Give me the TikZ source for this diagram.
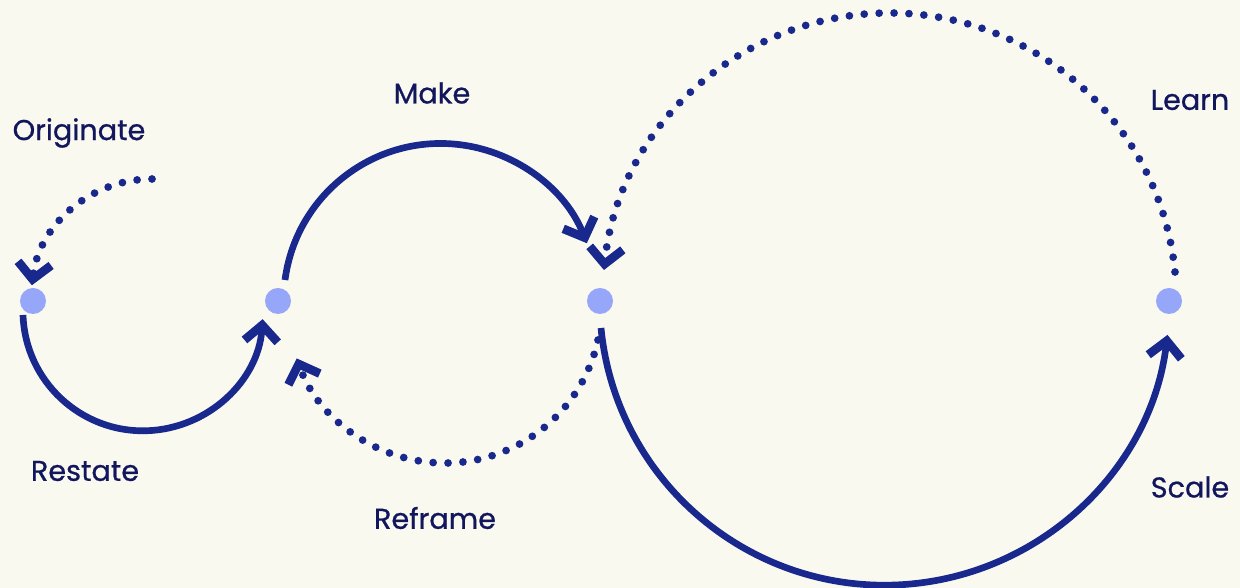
\documentclass[tikz,border=0pt]{standalone}
\usepackage{fontspec}
\setmainfont{Poppins}
\newfontfamily\tagfont{Poppins}[FakeBold=0.7]
\usetikzlibrary{arrows.meta,positioning}
\definecolor{cream}{RGB}{250,249,240}
\definecolor{navy}{RGB}{24,40,140}
\definecolor{ink}{RGB}{18,22,92}
\definecolor{dotblue}{RGB}{150,166,248}
\tikzset{
  chev/.tip={Straight Barb[length=12pt,width=25pt,line width=6.5pt,sharp]},
  hub/.style={circle,fill=dotblue,inner sep=0pt,minimum size=19.5pt},
  solidarc/.style={draw=navy,line width=5pt,-chev},
  dotarc/.style={draw=navy,line width=5.8pt,line cap=round,
    dash pattern=on 0pt off 11.2pt,-chev},
  tag/.style={text=ink,font=\tagfont\fontsize{21.5}{26}\selectfont},
}
\begin{document}
\begin{tikzpicture}[x=0.75pt,y=0.75pt]
  \fill[cream] (0,0) rectangle (1240,588);
  \useasboundingbox (0,0) rectangle (1240,588);
  % stations
  \foreach \n/\x in {A/33,B/278,C/600,D/1169}
    \node[hub] (\n) at (\x,287) {};
  \coordinate (orig) at (152,409);
  % loops
  \draw[dotarc] (orig) arc[start angle=90,end angle=173,radius=121];
  \draw[solidarc] ([shift={(-10,-14)}]A.center) arc[start angle=182,end angle=356,radius=120];
  \draw[solidarc] ([shift={(7,21)}]B.center) arc[start angle=172.5,end angle=21.4,radius=157];
  \draw[dotarc] ([shift={(-2,-39)}]C.center) arc[start angle=-12.5,end angle=-160.5,radius=157];
  \draw[dotarc] ([shift={(6,29)}]D.center) arc[start angle=5.6,end angle=174,radius=287];
  \draw[solidarc] ([shift={(1,-27)}]C.center) arc[start angle=185.6,end angle=353,radius=285];
  % labels
  \node[tag] (lorig) at (79,455) {Originate};
  \node[tag] (lmake) at (432,495) {Make};
  \node[tag] (llearn) at (1190,488) {Learn};
  \node[tag] (lrest) at (85,117) {Restate};
  \node[tag] (lrefr) at (435,70) {Reframe};
  \node[tag] (lscale) at (1190,101) {Scale};
\end{tikzpicture}
\end{document}
